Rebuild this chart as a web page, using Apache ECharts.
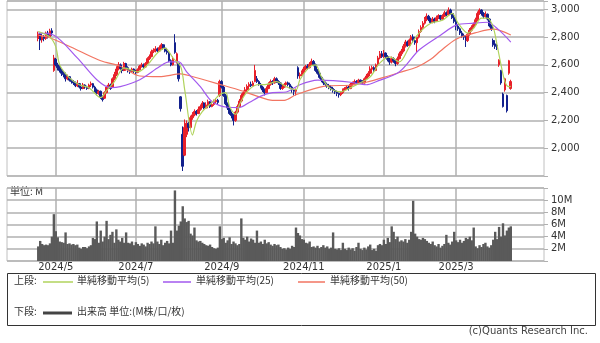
<!DOCTYPE html>
<html><head><meta charset="utf-8">
<script src="https://cdn.jsdelivr.net/npm/echarts@6/dist/echarts.min.js"></script>
<style>html,body{margin:0;padding:0;background:#fff}#c{width:600px;height:343px}</style>
</head><body><div id="c"></div>
<script>
// category slots (trading-day positions), first candle index
const SLOTS = 276;
const START = 16;
// [open, close, low, high] per trading day from START
const candles = [
[2790,2820,2770,2840],[2820,2780,2707,2830],[2780,2800,2760,2810],[2800,2790,2770,2815],[2790,2830,2780,2840],
[2830,2800,2790,2845],[2800,2845,2795,2860],[2845,2830,2810,2864],[2560,2650,2550,2672],[2640,2600,2590,2650],
[2600,2580,2560,2615],[2585,2560,2545,2600],[2560,2540,2520,2570],[2540,2530,2510,2555],[2530,2500,2480,2545],
[2500,2515,2490,2530],[2515,2490,2480,2520],[2490,2480,2465,2500],[2480,2470,2455,2490],[2470,2450,2440,2480],
[2450,2465,2440,2490],[2465,2440,2430,2470],[2440,2430,2415,2450],[2430,2455,2425,2470],[2455,2440,2430,2460],
[2440,2430,2420,2450],[2430,2455,2425,2465],[2455,2465,2440,2480],[2465,2440,2430,2470],[2440,2420,2400,2450],
[2420,2395,2380,2430],[2395,2410,2385,2420],[2410,2370,2355,2415],[2370,2350,2336,2380],[2360,2400,2355,2410],
[2400,2440,2395,2450],[2440,2455,2430,2470],[2455,2430,2420,2465],[2440,2500,2435,2510],[2500,2530,2490,2550],
[2530,2570,2520,2590],[2570,2600,2560,2620],[2600,2575,2565,2610],[2575,2560,2540,2585],[2560,2610,2555,2622],
[2610,2580,2570,2615],[2580,2560,2545,2590],[2560,2550,2535,2570],[2550,2570,2545,2580],[2570,2555,2540,2575],
[2555,2545,2530,2565],[2545,2565,2540,2575],[2565,2590,2560,2600],[2590,2600,2580,2615],[2600,2585,2575,2610],
[2585,2610,2580,2620],[2610,2645,2605,2655],[2645,2660,2635,2675],[2660,2695,2655,2710],[2695,2705,2685,2720],
[2705,2715,2690,2735],[2715,2700,2690,2725],[2700,2725,2695,2740],[2725,2745,2715,2757],[2745,2720,2710,2750],
[2720,2700,2690,2730],[2700,2690,2675,2710],[2690,2630,2620,2695],[2630,2600,2590,2640],[2600,2640,2595,2660],
[2760,2690,2680,2821],[2625,2680,2610,2690],[2610,2500,2480,2615],[2370,2285,2264,2375],[2100,1870,1836,2157],
[1950,2150,1943,2207],[2100,2180,2080,2200],[2180,2150,2120,2190],[2150,2220,2140,2235],[2220,2240,2205,2260],
[2240,2265,2230,2280],[2265,2250,2235,2275],[2250,2280,2245,2300],[2280,2300,2270,2315],[2300,2325,2290,2340],
[2325,2290,2280,2330],[2290,2310,2285,2330],[2310,2335,2300,2350],[2335,2300,2290,2340],[2300,2315,2295,2330],
[2315,2335,2305,2350],[2335,2345,2325,2360],[2345,2330,2315,2355],[2380,2480,2370,2493],[2480,2440,2430,2490],
[2440,2380,2370,2450],[2380,2320,2310,2390],[2320,2290,2275,2330],[2290,2250,2240,2300],[2250,2235,2215,2265],
[2235,2200,2164,2245],[2200,2260,2190,2270],[2260,2300,2250,2315],[2300,2340,2295,2355],[2340,2380,2330,2395],
[2380,2400,2370,2415],[2400,2420,2390,2440],[2420,2445,2410,2460],[2445,2460,2435,2475],[2460,2450,2440,2480],
[2450,2470,2445,2485],[2480,2560,2475,2600],[2500,2480,2470,2520],[2480,2460,2450,2490],[2460,2440,2430,2470],
[2440,2420,2405,2450],[2420,2400,2380,2430],[2400,2430,2395,2445],[2430,2460,2425,2475],[2460,2480,2450,2495],
[2480,2470,2455,2490],[2470,2500,2465,2514],[2500,2480,2470,2510],[2480,2470,2455,2490],[2470,2430,2420,2475],
[2430,2440,2420,2455],[2440,2460,2435,2470],[2460,2470,2450,2480],[2470,2460,2445,2480],[2460,2440,2430,2470],
[2440,2420,2400,2450],[2420,2410,2380,2425],[2410,2420,2380,2430],[2580,2520,2500,2590],[2520,2530,2500,2545],
[2530,2545,2520,2560],[2545,2570,2535,2585],[2570,2590,2560,2600],[2590,2580,2565,2605],[2580,2605,2575,2620],
[2605,2625,2595,2645],[2625,2600,2590,2635],[2600,2560,2550,2610],[2560,2540,2530,2570],[2540,2510,2500,2550],
[2510,2490,2475,2520],[2490,2470,2455,2500],[2470,2460,2445,2480],[2460,2450,2435,2470],[2450,2440,2425,2460],
[2440,2430,2415,2450],[2430,2415,2400,2440],[2415,2405,2390,2425],[2405,2395,2375,2415],[2395,2385,2364,2400],
[2385,2400,2375,2410],[2400,2420,2390,2430],[2420,2430,2410,2440],[2430,2440,2420,2455],[2440,2430,2415,2450],
[2430,2460,2425,2470],[2460,2470,2450,2480],[2470,2480,2460,2495],[2480,2470,2455,2490],[2470,2490,2465,2500],
[2490,2480,2465,2495],[2480,2470,2460,2490],[2470,2500,2465,2510],[2500,2520,2490,2535],[2520,2540,2510,2555],
[2540,2570,2530,2590],[2570,2580,2560,2595],[2580,2560,2550,2590],[2560,2600,2555,2610],[2600,2650,2595,2665],
[2650,2680,2640,2700],[2680,2660,2650,2700],[2660,2685,2650,2707],[2685,2660,2645,2690],[2660,2640,2625,2670],
[2640,2620,2600,2650],[2620,2645,2610,2660],[2645,2630,2615,2655],[2630,2610,2590,2640],[2610,2645,2600,2660],
[2645,2680,2640,2695],[2680,2700,2665,2715],[2700,2735,2690,2750],[2735,2765,2725,2780],[2765,2740,2730,2775],
[2740,2780,2735,2790],[2780,2800,2770,2815],[2800,2775,2760,2820],[2775,2760,2745,2790],[2760,2800,2690,2810],
[2800,2840,2790,2855],[2840,2870,2830,2885],[2870,2900,2860,2915],[2900,2925,2890,2945],[2925,2950,2915,2971],
[2950,2930,2915,2960],[2930,2905,2895,2940],[2905,2930,2900,2945],[2930,2915,2900,2940],[2915,2940,2910,2955],
[2940,2955,2930,2965],[2955,2930,2920,2960],[2930,2950,2925,2965],[2950,2975,2945,2990],[2975,2960,2950,2985],
[2960,2995,2955,3014],[2995,2970,2960,3005],[2970,2940,2930,2980],[2940,2915,2900,2950],[2915,2880,2850,2925],
[2880,2860,2845,2895],[2860,2830,2815,2870],[2830,2810,2795,2845],[2810,2800,2780,2825],[2800,2775,2729,2810],
[2775,2820,2765,2830],[2820,2850,2810,2865],[2850,2870,2840,2885],[2870,2890,2860,2905],[2890,2925,2880,2940],
[2925,2970,2915,2985],[2970,2995,2960,3007],[2995,2970,2955,3000],[2970,2950,2935,2980],[2950,2965,2940,2985],
[2965,2930,2920,2970],[2930,2880,2870,2935],[2880,2860,2845,2890],[2775,2745,2730,2790],[2750,2735,2715,2765],
[2740,2720,2707,2750],[2600,2635,2586,2640],[2560,2470,2457,2564],[2390,2300,2293,2400],[2420,2500,2407,2507],
[2380,2270,2257,2386],[2540,2630,2529,2636],[2430,2480,2421,2493]
];
// volume in millions, per trading day from START
const volumes = [
2.4,3.3,2.8,2.6,2.7,2.6,2.9,4.0, 7.7, 4.9,3.9,3.2,3.1,3.0, 4.7,2.8,2.9,2.7,2.8,2.6,
2.7,2.2,2.0,2.3,2.3,2.1,2.4,2.6,3.8, 3.6,6.5,3.0,5.0,3.2,4.0,6.6,3.6,4.3, 4.8,3.0,5.2,
3.5,3.2,3.8,3.0,4.7, 3.0,2.9,3.2,2.6,3.1, 2.8,2.5,2.9,2.7,2.4, 3.0,2.8,3.2,2.9, 5.7,
3.2,2.8,3.5,2.6,3.0,3.3,2.9, 5.0, 3.0, 11.6,
5.0,5.8,6.5,9.0,7.0,6.4,6.6,4.5,4.2,5.5,
3.4,3.2,3.3,3.0,2.8,2.6,2.5,2.7,2.3,2.1,2.0,2.2, 5.7,
3.6,3.8,3.0,3.4,3.9,2.8,3.2,2.9,2.6,2.8, 7.0,
3.8,3.5,4.0,3.2,3.7,3.5,3.0, 5.0,
3.0,3.2,2.8,3.5,2.9,3.1,2.7,2.5,2.8,2.6,2.7,
2.3,2.0,2.1,1.9,2.2,2.0,2.5,2.3, 5.5,
4.6,4.2,3.6,3.5,3.0,2.9,3.2,
2.3,2.4,2.2,2.5,2.1,2.3,2.6,2.2,2.4,2.0,2.2, 4.7,
2.0,1.9,2.1,1.8, 3.0,
2.0,1.8,2.2,1.9,2.1,1.7,2.3,3.0,2.0,
1.8,2.2,1.9,2.4,2.7,1.8,2.0,1.7,
2.6,2.8,2.6,3.5,2.8,3.8,3.1, 5.7,4.8,
3.6,4.0,3.2,3.4,3.2,3.6,3.0,3.5,4.8, 9.9,
4.5,4.0,3.6,3.5,3.8,3.6,3.3,3.0,2.8,3.2,2.6,
2.4,2.8,2.2,2.5,2.8,4.3,3.0,2.7,3.2,4.8,
3.4,3.1,3.5,3.0,3.3,3.8,3.6,4.0,3.4,5.5,
2.4,2.1,2.6,2.3,2.8,3.0,2.4,2.2,2.6,
3.5,4.8,3.6,5.6,4.0,6.2,4.2,5.0,5.5,5.7
];
// moving averages: [slot, value]
const ma5 = [[16,2840],[22,2800],[25,2730],[27,2600],[32,2507],[37,2457],[42,2436],[48,2364],[51,2414],[55,2479],
[60,2579],[67,2550],[72,2600],[77,2686],[81,2721],[85,2650],[89,2586],[91,2421],[95,2095],[97,2193],[100,2264],
[105,2329],[109,2386],[112,2400],[114,2300],[117,2243],[119,2314],[123,2407],[128,2457],[133,2460],[138,2479],
[143,2443],[148,2420],[150,2493],[155,2586],[158,2600],[161,2514],[165,2436],[171,2407],[176,2436],[181,2471],
[186,2514],[191,2614],[196,2657],[201,2621],[206,2729],[211,2829],[217,2900],[223,2921],[228,2971],[231,2900],
[236,2829],[239,2864],[243,2936],[246,2936],[249,2870],[251,2740],[253,2600],[255,2479],[257,2443],[258,2445]];
const ma25 = [[16,2828],[24,2814],[36,2650],[46,2493],[53,2436],[58,2443],[68,2493],[78,2586],[83,2621],[88,2621],
[92,2550],[99,2443],[105,2336],[113,2295],[119,2293],[124,2329],[130,2375],[136,2400],[143,2405],[150,2457],
[159,2490],[167,2486],[176,2475],[184,2457],[189,2479],[201,2550],[211,2707],[222,2814],[230,2886],[239,2900],
[246,2907],[252,2850],[258,2764]];
const ma50 = [[16,2814],[22,2795],[37,2700],[48,2630],[58,2590],[68,2520],[78,2515],[89,2535],[94,2520],
[109,2460],[121,2410],[128,2375],[136,2345],[142,2345],[148,2385],[162,2445],[177,2455],[184,2475],[193,2510],
[201,2545],[210,2585],[217,2640],[222,2700],[230,2785],[241,2835],[249,2857],[258,2815]];
// axis ticks
const tickIndex = [25, 66, 110, 152, 193, 230];
const tickText = ['2024/5', '2024/7', '2024/9', '2024/11', '2025/1', '2025/3'];
const priceTicks = [2000, 2200, 2400, 2600, 2800, 3000];
const volTicks = [2, 4, 6, 8, 10];

const slots = [];
for (let i = 0; i < SLOTS; i++) slots.push(String(i));
const candleData = candles.map((c, k) => [START + k, c[0], c[1], c[2], c[3]]);
const volData = volumes.map((v, k) => [START + k, v]);
const isTick = (idx) => tickIndex.indexOf(idx) >= 0;

const NUMF = 'DejaVu Sans';
const JPF = '"Noto Sans CJK JP", sans-serif';
const GRID = '#b0b0b0';
const UP = '#e8202a', DOWN = '#13218e';
const C5 = '#b0d35c', C25 = '#a259ee', C50 = '#f27562';

const chart = echarts.init(document.getElementById('c'), null, {renderer: 'canvas'});
chart.setOption({
  animation: false,
  backgroundColor: '#fff',
  grid: [
    {left: 7, right: 56, top: 1, height: 175, show: true, borderColor: '#c0c0c0', borderWidth: 1, backgroundColor: '#fff'},
    {left: 7, right: 56, top: 188, height: 73, show: true, borderColor: '#c0c0c0', borderWidth: 1, backgroundColor: '#fff'}
  ],
  xAxis: [
    {type: 'category', gridIndex: 0, data: slots, boundaryGap: false,
     axisLine: {show: false}, axisTick: {show: false}, axisLabel: {show: false},
     splitLine: {show: true, interval: (i) => isTick(i), lineStyle: {color: GRID, width: 1.5}}},
    {type: 'category', gridIndex: 1, data: slots, boundaryGap: false,
     axisLine: {show: false}, axisTick: {show: false},
     axisLabel: {show: true, interval: (i) => isTick(i), margin: 1,
       formatter: (v, i) => { const k = tickIndex.indexOf(Number(v)); return k >= 0 ? tickText[k] : ''; },
       color: '#333', fontFamily: NUMF, fontSize: 10},
     splitLine: {show: true, interval: (i) => isTick(i), lineStyle: {color: GRID, width: 1.5}}}
  ],
  yAxis: [
    {type: 'value', gridIndex: 0, position: 'right', min: 1800, max: 3060, interval: 200,
     axisLine: {show: false}, axisTick: {show: true, length: 4, lineStyle: {color: GRID}},
     axisLabel: {margin: 7, color: '#333', fontFamily: NUMF, fontSize: 10,
       formatter: (v) => priceTicks.indexOf(v) >= 0 ? v.toLocaleString('en-US') : ''},
     splitLine: {show: true, lineStyle: {color: GRID, width: 1.5}}},
    {type: 'value', gridIndex: 1, position: 'right', min: 0, max: 12, interval: 2,
     axisLine: {show: false}, axisTick: {show: true, length: 4, lineStyle: {color: GRID}},
     axisLabel: {margin: 7, color: '#333', fontFamily: NUMF, fontSize: 10,
       formatter: (v) => volTicks.indexOf(v) >= 0 ? v + 'M' : ''},
     splitLine: {show: true, lineStyle: {color: GRID, width: 1.5}}}
  ],
  series: [
    {type: 'candlestick', xAxisIndex: 0, yAxisIndex: 0, data: candleData,
     encode: {x: 0, y: [1, 2, 3, 4]}, barWidth: 2.2,
     itemStyle: {color: UP, color0: DOWN, borderColor: UP, borderColor0: DOWN, borderWidth: 1}},
    {type: 'line', xAxisIndex: 0, yAxisIndex: 0, data: ma50, showSymbol: false, smooth: 0.3,
     lineStyle: {color: C50, width: 1.2}},
    {type: 'line', xAxisIndex: 0, yAxisIndex: 0, data: ma25, showSymbol: false, smooth: 0.3,
     lineStyle: {color: C25, width: 1.2}},
    {type: 'line', xAxisIndex: 0, yAxisIndex: 0, data: ma5, showSymbol: false, smooth: 0.3,
     lineStyle: {color: C5, width: 1.2}},
    {type: 'bar', xAxisIndex: 1, yAxisIndex: 1, data: volData, barWidth: 2.4,
     itemStyle: {color: '#5a5a5a'}}
  ],
  graphic: [
    {type: 'text', left: 10, top: 186, style: {text: '単位: M', font: '10px ' + JPF, fill: '#333'}},
    {type: 'rect', shape: {x: 7.5, y: 273.5, width: 588, height: 52}, style: {fill: 'none', stroke: '#333', lineWidth: 1}},
    {type: 'text', left: 14, top: 275, style: {text: '上段:', font: '10px ' + JPF, fill: '#333'}},
    {type: 'line', shape: {x1: 43, y1: 282, x2: 73, y2: 282}, style: {stroke: C5, lineWidth: 1.5}},
    {type: 'text', left: 77, top: 275, style: {text: '単純移動平均(5)', font: '10px ' + JPF, fill: '#333'}},
    {type: 'line', shape: {x1: 163, y1: 282, x2: 191, y2: 282}, style: {stroke: C25, lineWidth: 1.5}},
    {type: 'text', left: 196, top: 275, style: {text: '単純移動平均(25)', font: '10px ' + JPF, fill: '#333'}},
    {type: 'line', shape: {x1: 298, y1: 282, x2: 325, y2: 282}, style: {stroke: C50, lineWidth: 1.5}},
    {type: 'text', left: 330, top: 275, style: {text: '単純移動平均(50)', font: '10px ' + JPF, fill: '#333'}},
    {type: 'text', left: 14, top: 306, style: {text: '下段:', font: '10px ' + JPF, fill: '#333'}},
    {type: 'line', shape: {x1: 43, y1: 313, x2: 72, y2: 313}, style: {stroke: '#444', lineWidth: 3}},
    {type: 'text', left: 77, top: 306, style: {text: '出来高 単位:(M株/口/枚)', font: '10px ' + JPF, fill: '#333'}},
    {type: 'text', right: 12, top: 326, style: {text: '(c)Quants Research Inc.', font: '10px ' + NUMF, fill: '#444'}}
  ]
});
</script></body></html>
